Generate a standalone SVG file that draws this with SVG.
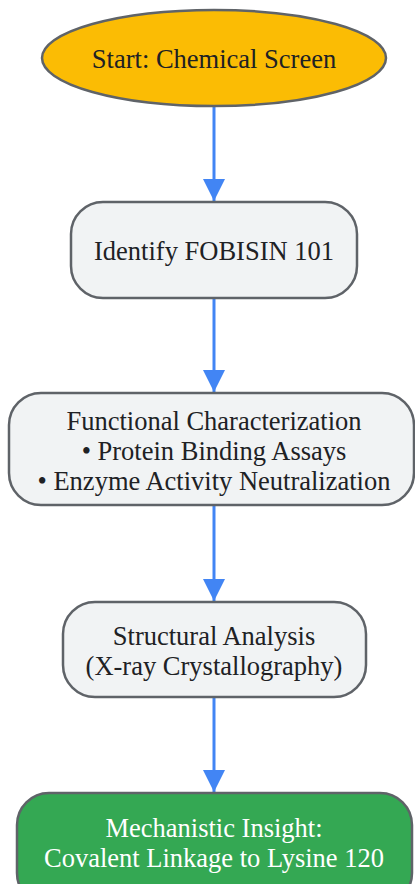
<svg xmlns="http://www.w3.org/2000/svg" width="415" height="884" viewBox="0 0 415 884">
<style>
.lbl{font-family:"Liberation Serif","Times New Roman",serif;font-size:26.5px;fill:#202124;text-anchor:middle}
.w{fill:#ffffff}
.box{fill:#F1F3F4;stroke:#5F6368;stroke-width:2.5}
.edge{stroke:#4285F4;stroke-width:3;fill:none}
</style>
<defs>
<marker id="ah" viewBox="0 0 22 22" refX="22" refY="11" markerWidth="22" markerHeight="22" markerUnits="userSpaceOnUse" orient="auto">
<path d="M0,0 L22,11 L0,22 Z" fill="#4285F4"/>
</marker>
</defs>
<rect width="415" height="884" fill="#ffffff"/>
<g id="connectors">
<line class="edge" x1="214" y1="106" x2="214" y2="201" marker-end="url(#ah)"/>
<line class="edge" x1="214" y1="298" x2="214" y2="392" marker-end="url(#ah)"/>
<line class="edge" x1="214" y1="505" x2="214" y2="601" marker-end="url(#ah)"/>
<line class="edge" x1="214" y1="697" x2="214" y2="792" marker-end="url(#ah)"/>
</g>
<g id="start">
<ellipse cx="214" cy="58" rx="172" ry="48" fill="#FBBC04" stroke="#5F6368" stroke-width="2.5"/>
<text class="lbl" x="214" y="68">Start: Chemical Screen</text>
</g>
<g id="identify">
<rect class="box" x="71" y="202" width="286" height="96" rx="32" ry="32"/>
<text class="lbl" x="214" y="260">Identify FOBISIN 101</text>
</g>
<g id="functional">
<rect class="box" x="9" y="393" width="405" height="112" rx="32" ry="32"/>
<text class="lbl" x="214" y="430">Functional Characterization</text>
<text class="lbl" x="214" y="460">• Protein Binding Assays</text>
<text class="lbl" x="214" y="490">• Enzyme Activity Neutralization</text>
</g>
<g id="structural">
<rect class="box" x="63" y="602" width="303" height="95" rx="32" ry="32"/>
<text class="lbl" x="214" y="645">Structural Analysis</text>
<text class="lbl" x="214" y="675">(X-ray Crystallography)</text>
</g>
<g id="insight">
<rect x="17" y="793" width="395" height="112" rx="32" ry="32" fill="#34A853" stroke="#5F6368" stroke-width="2.5"/>
<text class="lbl w" x="214" y="837">Mechanistic Insight:</text>
<text class="lbl w" x="214" y="867">Covalent Linkage to Lysine 120</text>
</g>
</svg>
